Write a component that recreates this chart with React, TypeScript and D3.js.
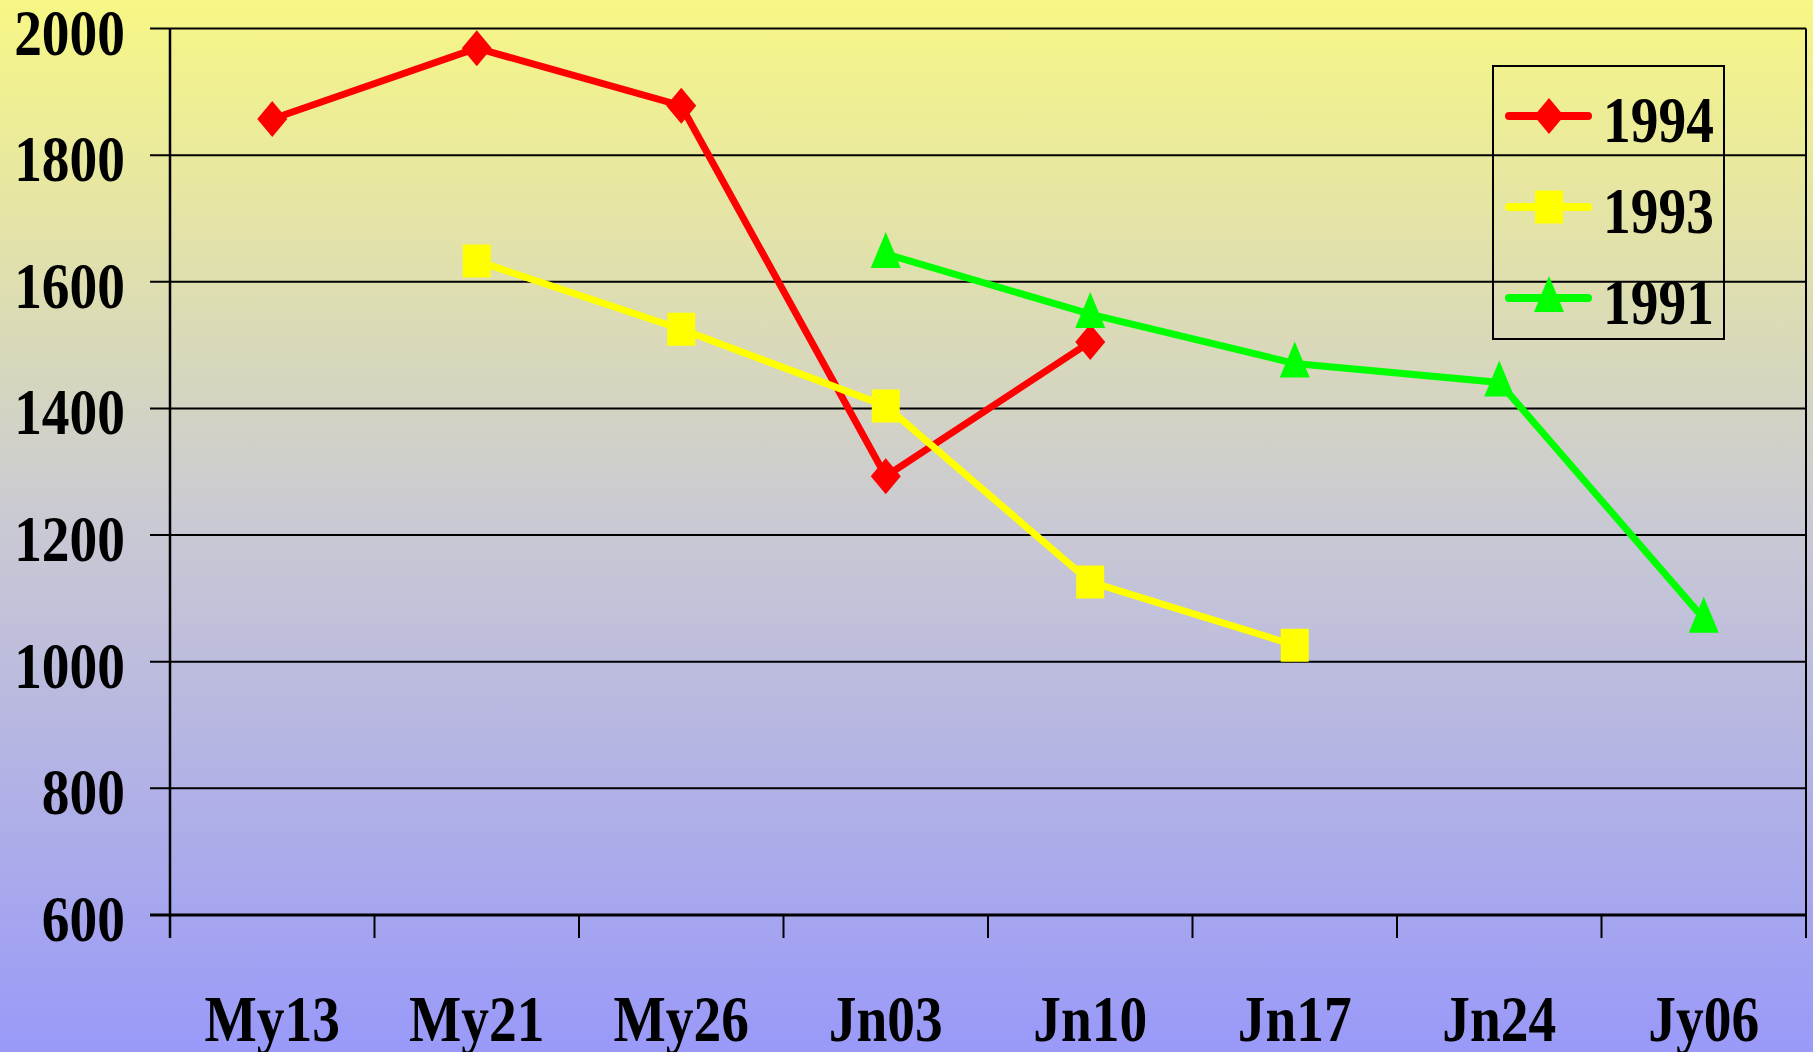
import React, { useEffect, useRef } from "react";
import * as d3 from "d3";

// Weekly values
const categories = ["My13", "My21", "My26", "Jn03", "Jn10", "Jn17", "Jn24", "Jy06"];
const yTicks = [600, 800, 1000, 1200, 1400, 1600, 1800, 2000];

const values1994 = [1857, 1969, 1878, 1293, 1505, null, null, null];
const values1993 = [null, 1633, 1525, 1404, 1126, 1026, null, null];
const values1991 = [null, null, null, 1644, 1549, 1471, 1441, 1068];

const seriesNames = ["1994", "1993", "1991"];
const seriesColors = ["#ff0000", "#ffff00", "#00ff00"];
const seriesMarkers = ["diamond", "square", "triangle"];

const FONT = "'Liberation Serif', 'Times New Roman', serif";

// marker shapes are a bit taller than wide in the original
const markerPath = (type: string) => {
  if (type === "diamond") return "M0,-18L15,0L0,18L-15,0Z";
  if (type === "square") return "M-14,-16.5H14V16.5H-14Z";
  return "M0,-22L15,14L-15,14Z";
};

const App = () => {
  const svgRef = useRef<SVGSVGElement>(null);

  useEffect(() => {
    const width = 1813;
    const height = 1052;
    const left = 170;
    const right = 1806;
    const top = 28.5;
    const bottom = 915;

    const svg = d3.select(svgRef.current);
    svg.selectAll("*").remove();
    svg.attr("width", width).attr("height", height);

    // background gradient, yellow to lavender
    const grad = svg
      .append("defs")
      .append("linearGradient")
      .attr("id", "bg")
      .attr("x1", 0)
      .attr("y1", 0)
      .attr("x2", 0)
      .attr("y2", 1);
    grad.append("stop").attr("offset", "0%").attr("stop-color", "#f7f785");
    grad.append("stop").attr("offset", "48%").attr("stop-color", "#cbcbd2");
    grad.append("stop").attr("offset", "100%").attr("stop-color", "#9999f9");
    svg.append("rect").attr("width", width).attr("height", height).attr("fill", "url(#bg)");

    const x = d3.scaleBand().domain(categories).range([left, right]).padding(0);
    const y = d3.scaleLinear().domain([600, 2000]).range([bottom, top]);

    // gridlines + y ticks
    svg
      .append("g")
      .selectAll("line")
      .data(yTicks)
      .enter()
      .append("line")
      .attr("x1", left - 20)
      .attr("x2", right)
      .attr("y1", (d) => y(d))
      .attr("y2", (d) => y(d))
      .attr("stroke", "#000")
      .attr("stroke-width", (d) => (d === 600 ? 3 : 2));

    // y labels
    svg
      .append("g")
      .selectAll("text")
      .data(yTicks)
      .enter()
      .append("text")
      .attr("transform", (d) => `translate(125, ${y(d) + 26}) scale(0.84, 1)`)
      .attr("text-anchor", "end")
      .style("font-family", FONT)
      .style("font-weight", "bold")
      .style("font-size", "66px")
      .text((d) => d);

    // left and right frame lines
    svg.append("line").attr("x1", left).attr("x2", left).attr("y1", top).attr("y2", bottom + 23).attr("stroke", "#000").attr("stroke-width", 2.5);
    svg.append("line").attr("x1", right).attr("x2", right).attr("y1", top).attr("y2", bottom + 23).attr("stroke", "#000").attr("stroke-width", 2);

    // x ticks at band boundaries
    const boundaries = categories.map((c) => x(c) as number).concat([right]);
    svg
      .append("g")
      .selectAll("line")
      .data(boundaries)
      .enter()
      .append("line")
      .attr("x1", (d) => d)
      .attr("x2", (d) => d)
      .attr("y1", bottom)
      .attr("y2", bottom + 23)
      .attr("stroke", "#000")
      .attr("stroke-width", 2);

    // x labels
    svg
      .append("g")
      .selectAll("text")
      .data(categories)
      .enter()
      .append("text")
      .attr("transform", (d) => `translate(${(x(d) as number) + x.bandwidth() / 2}, 1041) scale(0.84, 1)`)
      .attr("text-anchor", "middle")
      .style("font-family", FONT)
      .style("font-weight", "bold")
      .style("font-size", "66px")
      .text((d) => d);

    // series
    const allSeries = [values1994, values1993, values1991];
    const cx = (i: number) => (x(categories[i]) as number) + x.bandwidth() / 2;
    const line = d3
      .line<any>()
      .defined((d) => d.v != null)
      .x((d) => cx(d.i))
      .y((d) => y(d.v));

    allSeries.forEach((vals, s) => {
      const pts = vals.map((v, i) => ({ v, i }));
      const g = svg.append("g");
      g.append("path")
        .attr("d", line(pts))
        .attr("fill", "none")
        .attr("stroke", seriesColors[s])
        .attr("stroke-width", 7)
        .attr("stroke-linejoin", "miter");
      g.selectAll("path.m")
        .data(pts.filter((p) => p.v != null))
        .enter()
        .append("path")
        .attr("class", "m")
        .attr("d", markerPath(seriesMarkers[s]))
        .attr("transform", (d) => `translate(${cx(d.i)}, ${y(d.v as number)})`)
        .attr("fill", seriesColors[s]);
    });

    // legend
    const legend = svg.append("g");
    legend
      .append("rect")
      .attr("x", 1493)
      .attr("y", 66)
      .attr("width", 231)
      .attr("height", 273)
      .attr("fill", "none")
      .attr("stroke", "#000")
      .attr("stroke-width", 2);
    seriesNames.forEach((name, s) => {
      const ry = 116 + s * 91;
      legend
        .append("line")
        .attr("x1", 1509)
        .attr("x2", 1588)
        .attr("y1", ry)
        .attr("y2", ry)
        .attr("stroke", seriesColors[s])
        .attr("stroke-width", 8)
        .attr("stroke-linecap", "round");
      legend
        .append("path")
        .attr("d", markerPath(seriesMarkers[s]))
        .attr("transform", `translate(1549, ${ry})`)
        .attr("fill", seriesColors[s]);
      legend
        .append("text")
        .attr("transform", `translate(1603, ${ry + 26}) scale(0.84, 1)`)
        .style("font-family", FONT)
        .style("font-weight", "bold")
        .style("font-size", "66px")
        .text(name);
    });
  }, []);

  return <svg ref={svgRef} style={{ position: "absolute", left: 0, top: 0 }}></svg>;
};

export default App;
